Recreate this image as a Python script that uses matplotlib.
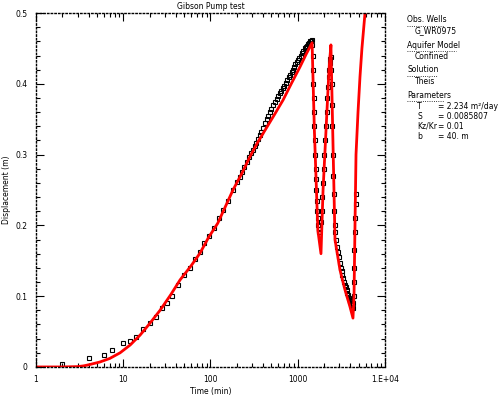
import matplotlib
matplotlib.use('Agg')
import matplotlib.pyplot as plt
from matplotlib.ticker import FixedLocator, LogLocator, NullFormatter, MultipleLocator

# observed drawdown (min, m)
obs_t = [2, 4, 6, 7.5, 10, 12, 14, 17, 20, 24, 28, 32, 36, 42, 50, 58, 66, 75, 85, 95,
         110, 125, 140, 160, 180,
         200, 215, 230, 245, 260, 275, 290, 305, 320, 335, 350, 365, 380, 400, 420, 440,
         460, 480, 500, 525, 550, 575, 600, 625, 650, 675, 700, 730, 760, 790, 820, 850,
         880, 910, 940, 970, 1000, 1040, 1080, 1120, 1160, 1200, 1240, 1280, 1320, 1360,
         1400, 1430, 1450,
         1465, 1480, 1495, 1510, 1525, 1540, 1555, 1570, 1585, 1600, 1620, 1640, 1660,
         1680, 1700, 1720, 1740, 1760,
         1840, 1880, 1915, 1950, 1985, 2020, 2060, 2100, 2140, 2180, 2220, 2260, 2300,
         2340, 2370, 2400,
         2425, 2450, 2475, 2500, 2530, 2560, 2590, 2620, 2660, 2700, 2750, 2800, 2875,
         2950, 3025, 3100, 3175, 3250, 3325, 3400, 3475, 3550, 3625, 3700, 3775, 3850,
         3925, 4000, 4075, 4150, 4225, 4300,
         4330, 4360, 4390, 4420, 4460, 4500, 4550, 4600, 4650]
obs_s = [0.004, 0.013, 0.017, 0.024, 0.034, 0.036, 0.043, 0.053, 0.062, 0.070, 0.083,
         0.090, 0.100, 0.116, 0.130, 0.140, 0.152, 0.163, 0.175, 0.185, 0.196, 0.210,
         0.222, 0.234, 0.250,
         0.262, 0.269, 0.276, 0.283, 0.290, 0.296, 0.302, 0.307, 0.312, 0.317, 0.322,
         0.327, 0.332, 0.338, 0.345, 0.350, 0.355, 0.360, 0.365, 0.370, 0.375, 0.379,
         0.383, 0.387, 0.390, 0.394, 0.397, 0.401, 0.405, 0.409, 0.413, 0.416, 0.420,
         0.424, 0.428, 0.431, 0.434, 0.437, 0.440, 0.444, 0.447, 0.450, 0.452, 0.454,
         0.456, 0.458, 0.460, 0.461, 0.462,
         0.455, 0.440, 0.420, 0.400, 0.380, 0.360, 0.340, 0.320, 0.300, 0.280, 0.265,
         0.250, 0.235, 0.220, 0.210, 0.200, 0.195, 0.190,
         0.205, 0.220, 0.240, 0.260, 0.280, 0.300, 0.320, 0.340, 0.360, 0.380, 0.395,
         0.410, 0.420, 0.430, 0.435, 0.438,
         0.420, 0.400, 0.370, 0.340, 0.300, 0.270, 0.245, 0.220, 0.200, 0.190, 0.180,
         0.170, 0.162, 0.155, 0.147, 0.140, 0.135, 0.130, 0.125, 0.120, 0.116, 0.113,
         0.109, 0.105, 0.101, 0.098, 0.095, 0.093, 0.090, 0.088, 0.085, 0.083,
         0.090, 0.100, 0.120, 0.140, 0.165, 0.190, 0.210, 0.230, 0.245]

# Theis fit
fit_t = [1, 2, 3, 3.5, 4, 5.4, 7, 9.2, 12, 15.6, 20, 26.4, 35, 44.8, 60, 76, 95, 121,
         150, 181, 230, 283, 350, 444, 550, 678, 850, 1062, 1250, 1460,
         1550, 1700, 1846, 1950, 2100, 2280, 2400, 2530, 2673, 3050, 3478, 3969, 4295,
         4414, 4530, 4653, 4906, 5168, 5440, 5900, 6100]
fit_s = [0.0, 0.0, 0.0005, 0.0015, 0.003, 0.007, 0.012, 0.020, 0.031, 0.045, 0.061,
         0.080, 0.102, 0.123, 0.143, 0.161, 0.183, 0.203, 0.228, 0.250, 0.274, 0.297,
         0.318, 0.339, 0.358, 0.377, 0.401, 0.424, 0.442, 0.458,
         0.335, 0.193, 0.160, 0.250, 0.330, 0.420, 0.455, 0.320, 0.180, 0.137, 0.109,
         0.085, 0.069, 0.100, 0.200, 0.300, 0.360, 0.410, 0.450, 0.500, 0.520]

xticks = [1, 10, 100, 1000, 10000]
xtick_labels = ['1', '10', '100', '1000', '1.E+04']
yticks = [0, 0.1, 0.2, 0.3, 0.4, 0.5]
ytick_labels = ['0', '0.1', '0.2', '0.3', '0.4', '0.5']

info = [('Obs. Wells', True, 0), ('G_WR0975', False, 1),
        ('Aquifer Model', True, 0), ('Confined', False, 1),
        ('Solution', True, 0), ('Theis', False, 1),
        ('Parameters', True, 0)]
params = [('T', '= 2.234 m²/day'), ('S', '= 0.0085807'),
          ('Kz/Kr', '= 0.01'), ('b', '= 40. m')]

fig = plt.figure(figsize=(5.0, 3.95), dpi=100)
ax = fig.add_axes([0.072, 0.071, 0.698, 0.896])

ax.plot(obs_t, obs_s, 's', ms=2.2, mfc='none', mec='black', mew=0.8)
ax.plot(fit_t, fit_s, '-', color='red', lw=2)

ax.set_xscale('log')
ax.set_xlim(1, 10000)
ax.set_ylim(0, 0.5)
ax.xaxis.set_major_locator(FixedLocator(xticks))
ax.set_xticklabels(xtick_labels)
ax.xaxis.set_minor_locator(LogLocator(base=10, subs=range(2, 10)))
ax.xaxis.set_minor_formatter(NullFormatter())
ax.set_yticks(yticks)
ax.set_yticklabels(ytick_labels)
ax.yaxis.set_minor_locator(MultipleLocator(0.02))

ax.tick_params(which='both', direction='in', top=True, right=True, labelsize=5.5,
               width=0.8)
ax.tick_params(which='major', length=6, pad=6)
ax.tick_params(which='minor', length=3)
for sp in ax.spines.values():
    sp.set_linestyle(':')
    sp.set_linewidth(1)

ax.set_title('Gibson Pump test', fontsize=5.5, pad=3)
ax.set_xlabel('Time (min)', fontsize=5.5, labelpad=2)
fig.text(0.013, 0.52, 'Displacement (m)', fontsize=5.5, rotation=90,
         ha='center', va='center')

# legend panel on the right
y = 1 - 20 / 395
for txt, head, ind in info:
    fig.text(0.814 + 0.016 * ind, y, txt, fontsize=5.5, va='center')
    if head:
        w = len(txt) * 0.0075
        fig.add_artist(plt.Line2D([0.814, 0.814 + w], [y - 0.014, y - 0.014],
                                  color='black', lw=0.6, ls=':'))
    y -= (11 if ind == 0 else 14) / 395
for name, val in params:
    fig.text(0.834, y, name, fontsize=5.5, va='center')
    fig.text(0.876, y, val, fontsize=5.5, va='center')
    y -= 10 / 395

fig.savefig('out.png', dpi=100)
